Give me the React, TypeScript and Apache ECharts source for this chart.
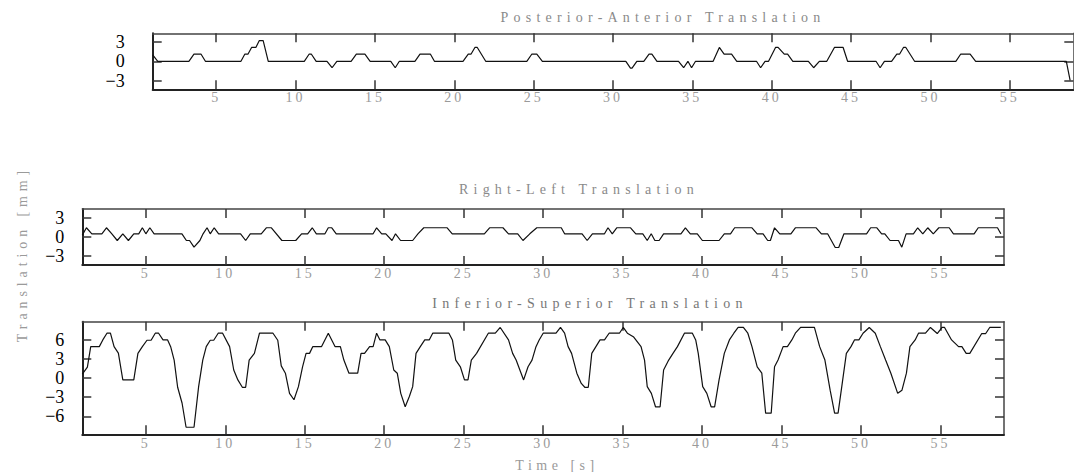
import React, { useEffect, useRef } from "react";
import * as echarts from "echarts";

// ---------- data ----------
const T_MIN = 1;
const T_MAX = 59;
const xTicks = [5, 10, 15, 20, 25, 30, 35, 40, 45, 50, 55];
const paYTicks = [-3, 0, 3];
const rlYTicks = [-3, 0, 3];
const isYTicks = [-6, -3, 0, 3, 6];

const titlePA = "Posterior-Anterior Translation";
const titleRL = "Right-Left Translation";
const titleIS = "Inferior-Superior Translation";
const xName = "Time [s]";
const yName = "Translation [mm]";

// [time s, translation mm]
const paData: [number, number][] = [
  [1.0, 1.0], [1.32, 0], [3.28, 0], [3.6, 1.1], [4.05, 1.1], [4.32, 0], [6.56, 0], [6.8, 1.1], [7.0, 1.1],
  [7.23, 2.15], [7.5, 2.15], [7.71, 3.2], [7.96, 3.2], [8.28, 0], [10.55, 0], [10.85, 1.1], [11.0, 1.1],
  [11.3, 0], [11.98, 0], [12.3, -1.0], [12.6, 0], [13.5, 0], [13.83, 1.1], [14.37, 1.1], [14.7, 0],
  [16.0, 0], [16.28, -1.0], [16.54, 0], [17.52, 0], [17.84, 1.1], [18.5, 1.1], [18.75, 0], [20.55, 0],
  [20.88, 1.1], [21.05, 1.1], [21.3, 2.15], [21.45, 2.15], [21.98, 0], [24.57, 0], [24.88, 1.1],
  [25.2, 1.1], [25.55, 0], [30.81, 0], [31.1, -1.05], [31.2, -1.05], [31.5, 0], [31.94, 0], [32.27, 1.1],
  [32.45, 1.1], [32.77, 0], [34.13, 0], [34.45, -1.0], [34.72, 0], [34.95, -1.0], [35.2, 0], [36.31, 0],
  [36.7, 2.15], [37.0, 1.1], [37.47, 1.1], [37.8, 0], [39.04, 0], [39.3, -1.0], [39.58, 0], [39.8, 0],
  [40.24, 2.15], [40.4, 2.15], [40.79, 1.1], [41.0, 1.1], [41.33, 0], [42.31, 0], [42.64, -1.0], [43.0, 0],
  [43.47, 0], [43.95, 2.15], [44.5, 2.15], [44.78, 0], [46.57, 0], [46.83, -1.0], [47.1, 0], [47.55, 0],
  [47.88, 1.1], [48.05, 1.1], [48.3, 2.15], [48.45, 2.15], [49.0, 0], [51.6, 0], [51.9, 1.1], [52.5, 1.1],
  [52.85, 0], [58.56, 0], [58.8, -2.95],
];

const rlData: [number, number][] = [
  [1.0, 0.3], [1.26, 1.45], [1.6, 0.5], [2.23, 0.5], [2.52, 1.45], [2.86, 0.5], [3.2, -0.55], [3.55, 0.5],
  [3.9, -0.55], [4.24, 0.5], [4.55, 0.5], [4.78, 1.45], [5.0, 0.5], [5.25, 1.45], [5.52, 0.5], [7.27, 0.5],
  [7.55, -0.55], [7.75, -0.55], [8.03, -1.6], [8.4, -0.55], [8.6, 0.5], [8.85, 1.45], [9.05, 0.5],
  [9.3, 1.45], [9.58, 0.5], [10.96, 0.5], [11.28, -0.55], [11.57, 0.5], [12.26, 0.5], [12.58, 1.45],
  [12.9, 1.45], [13.56, -0.55], [14.43, -0.55], [14.8, 0.5], [15.18, 0.5], [15.47, 1.45], [15.73, 0.5],
  [16.27, 0.5], [16.48, 1.45], [16.7, 1.45], [16.98, 0.5], [19.3, 0.5], [19.52, 1.45], [19.84, 0.5],
  [20.1, 0.5], [20.49, -0.55], [20.71, 0.5], [21.03, -0.55], [21.79, -0.55], [22.12, 0.5], [22.49, 1.45],
  [23.96, 1.45], [24.28, 0.5], [26.3, 0.5], [26.63, 1.45], [27.47, 1.45], [27.82, 0.5], [28.4, 0.5],
  [28.73, -0.55], [29.16, 0.5], [29.6, 1.45], [31.14, 1.45], [31.35, 0.5], [32.45, 0.5], [32.77, -0.55],
  [33.1, 0.5], [33.86, 0.5], [34.08, 1.45], [34.35, 0.5], [34.63, 1.45], [35.5, 1.45], [35.83, 0.5],
  [36.27, 0.5], [36.55, -0.55], [36.8, 0.5], [37.03, -0.55], [37.3, -0.55], [37.58, 0.5], [38.67, 0.5],
  [38.95, 1.45], [39.26, 0.5], [39.7, 0.5], [40.02, -0.55], [41.07, -0.55], [41.4, 0.5], [41.79, 0.5],
  [42.05, 1.45], [43.14, 1.45], [43.47, 0.5], [43.84, 0.5], [44.13, -0.55], [44.3, -0.55], [44.56, 1.45],
  [44.89, 0.5], [45.59, 0.5], [45.87, 1.45], [47.18, 1.45], [47.51, 0.5], [47.9, 0.5], [48.38, -1.65],
  [48.6, -1.65], [48.93, 0.5], [50.35, 0.5], [50.61, 1.45], [51.0, 1.45], [51.3, 0.5], [51.5, 0.5],
  [51.83, -0.55], [52.36, -0.55], [52.57, -1.6], [52.84, 0.5], [53.3, 0.5], [53.57, 1.45], [53.89, 0.5],
  [54.2, 1.45], [54.55, 0.5], [54.9, 1.45], [55.55, 1.45], [55.82, 0.5], [57.12, 0.5], [57.38, 1.45],
  [58.59, 1.45], [58.8, 0.5],
];

const isData: [number, number][] = [
  [1.0, 0.6], [1.32, 1.7], [1.53, 4.9], [2.07, 4.9], [2.29, 5.95], [2.55, 7.0], [2.77, 7.0], [3.0, 4.9],
  [3.27, 3.9], [3.55, -0.3], [4.24, -0.3], [4.5, 3.85], [4.78, 4.9], [5.07, 5.9], [5.33, 5.9], [5.59, 7.0],
  [5.8, 7.0], [6.08, 5.95], [6.37, 5.95], [6.56, 4.9], [6.78, 2.8], [7.0, -1.45], [7.28, -3.95],
  [7.53, -7.7], [8.03, -7.7], [8.32, -1.35], [8.58, 2.8], [8.8, 4.9], [9.05, 5.9], [9.27, 5.9], [9.55, 7.0],
  [9.83, 7.0], [10.27, 4.9], [10.53, 1.25], [10.79, -0.3], [11.07, -1.45], [11.28, -1.45], [11.5, 2.8],
  [11.83, 3.85], [12.15, 7.0], [13.0, 7.0], [13.3, 5.9], [13.52, 1.9], [13.78, 0.75], [14.04, -2.4],
  [14.32, -3.4], [14.6, -1.35], [14.86, 1.75], [15.08, 3.85], [15.3, 3.85], [15.5, 4.9], [16.05, 4.9],
  [16.48, 7.0], [16.91, 4.9], [17.24, 4.9], [17.46, 2.8], [17.78, 0.75], [18.33, 0.75], [18.54, 3.85],
  [18.76, 3.85], [19.08, 4.9], [19.3, 4.9], [19.52, 7.0], [19.73, 5.95], [20.06, 5.95], [20.32, 4.9],
  [20.6, 1.25], [20.82, 0.75], [21.04, -2.4], [21.32, -4.5], [21.58, -2.9], [21.79, -1.35], [22.0, 3.85],
  [22.27, 4.9], [22.55, 5.95], [22.83, 5.95], [23.05, 7.0], [24.07, 7.0], [24.29, 5.95], [24.5, 2.8],
  [24.79, 1.75], [25.05, -0.3], [25.27, -0.3], [25.48, 2.8], [25.81, 3.85], [26.55, 7.0], [26.99, 7.0],
  [27.3, 7.9], [27.82, 5.95], [28.08, 3.85], [28.3, 2.8], [28.77, -0.3], [29.05, 1.75], [29.3, 2.8],
  [29.55, 4.9], [29.75, 5.95], [30.0, 7.0], [30.81, 7.0], [31.09, 7.9], [31.35, 7.0], [31.57, 4.9],
  [31.79, 3.85], [32.12, 0.75], [32.4, -0.85], [32.62, -1.45], [32.84, -1.45], [33.06, 3.85], [33.32, 4.9],
  [33.58, 5.95], [33.86, 5.95], [34.15, 7.0], [34.8, 7.0], [35.04, 7.9], [35.3, 7.0], [35.7, 6.4],
  [36.16, 4.9], [36.38, 2.8], [36.55, -1.35], [36.81, -2.4], [37.07, -4.5], [37.36, -4.5], [37.58, 1.25],
  [37.9, 2.8], [38.17, 3.85], [38.45, 4.9], [38.89, 7.0], [39.39, 7.0], [39.6, 5.95], [39.76, 3.85],
  [40.04, -1.35], [40.3, -2.4], [40.57, -4.5], [40.79, -4.5], [41.07, -0.3], [41.4, 3.85], [41.72, 5.95],
  [42.0, 7.0], [42.27, 7.9], [42.6, 7.9], [42.88, 7.0], [43.14, 4.9], [43.47, 1.75], [43.76, 0.75],
  [44.0, -5.5], [44.35, -5.5], [44.56, 1.75], [44.78, 2.8], [45.1, 4.9], [45.37, 4.9], [45.65, 5.95],
  [45.87, 7.0], [46.2, 7.9], [47.07, 7.9], [47.4, 4.9], [47.73, 2.8], [48.06, -1.9], [48.34, -5.5],
  [48.56, -5.5], [48.82, -0.85], [49.08, 3.85], [49.37, 4.9], [49.59, 5.95], [49.87, 5.95], [50.13, 7.0],
  [50.52, 7.9], [50.9, 7.0], [51.22, 4.9], [51.55, 2.8], [51.88, 0.75], [52.31, -2.4], [52.58, -1.9],
  [52.86, 0.75], [53.08, 4.9], [53.41, 5.95], [53.62, 7.0], [54.06, 7.0], [54.37, 7.9], [54.8, 6.95],
  [55.1, 7.9], [55.26, 7.9], [55.7, 5.95], [56.14, 4.9], [56.35, 4.9], [56.62, 3.85], [56.85, 3.85],
  [57.6, 6.95], [57.85, 6.95], [58.1, 7.9], [58.8, 7.9],
];

// ---------- styling ----------
const FONT = "Liberation Serif, DejaVu Serif, serif";

const fmtY = (v: number) => (v < 0 ? "\u2212" + Math.abs(v) : String(v));

function axesFor(
  g: number,
  yMin: number,
  yMax: number,
  yTicks: number[],
  yLabelMargin: number,
  xLabelMargin: number
) {
  const tickStyle = { color: "#333", width: 1.5 };
  const xBottom = {
    type: "value",
    gridIndex: g,
    min: T_MIN,
    max: T_MAX,
    position: "bottom",
    axisLine: { show: true, onZero: false, lineStyle: { color: "#222", width: 2 } },
    axisTick: { show: true, inside: true, length: 9, customValues: xTicks, lineStyle: tickStyle },
    axisLabel: {
      show: true,
      customValues: xTicks,
      margin: xLabelMargin,
      color: "#9a9a9a",
      fontSize: 14,
      fontFamily: FONT,
    },
    splitLine: { show: false },
  };
  const xTop = {
    type: "value",
    gridIndex: g,
    min: T_MIN,
    max: T_MAX,
    position: "top",
    axisLine: { show: true, onZero: false, lineStyle: { color: "#444", width: 1.5 } },
    axisTick: { show: true, inside: true, length: 9, customValues: xTicks, lineStyle: tickStyle },
    axisLabel: { show: false },
    splitLine: { show: false },
  };
  const yLeft = {
    type: "value",
    gridIndex: g,
    min: yMin,
    max: yMax,
    position: "left",
    axisLine: { show: true, onZero: false, lineStyle: { color: "#222", width: 2 } },
    axisTick: { show: true, inside: true, length: 9, customValues: yTicks, lineStyle: tickStyle },
    axisLabel: {
      show: true,
      customValues: yTicks,
      margin: yLabelMargin,
      color: "#000",
      fontSize: 18,
      fontFamily: FONT,
      formatter: fmtY,
    },
    splitLine: { show: false },
  };
  const yRight = {
    type: "value",
    gridIndex: g,
    min: yMin,
    max: yMax,
    position: "right",
    axisLine: { show: true, onZero: false, lineStyle: { color: "#444", width: 1.5 } },
    axisTick: { show: true, inside: true, length: 9, customValues: yTicks, lineStyle: tickStyle },
    axisLabel: { show: false },
    splitLine: { show: false },
  };
  return { x: [xBottom, xTop], y: [yLeft, yRight] };
}

const spacingMap: Record<string, string> = {
  [titlePA]: "5.2px",
  [titleRL]: "5.2px",
  [titleIS]: "5.3px",
  [xName]: "4.5px",
  [yName]: "4.9px",
};
xTicks.forEach((t) => (spacingMap[String(t)] = "3px"));

export default function App() {
  const ref = useRef<HTMLDivElement>(null);

  useEffect(() => {
    const el = ref.current;
    if (!el) return;
    const chart = echarts.init(el, undefined, { renderer: "svg" });

    const a0 = axesFor(0, -4.35, 4.35, paYTicks, 28, 1);
    const a1 = axesFor(1, -4.4, 4.4, rlYTicks, 18, 1);
    const a2 = axesFor(2, -8.8, 8.8, isYTicks, 18, 2);

    const lineSeries = (g: number, data: [number, number][], name: string) => ({
      type: "line",
      name,
      xAxisIndex: g * 2,
      yAxisIndex: g * 2,
      data,
      symbol: "none",
      showSymbol: false,
      lineStyle: { color: "#111", width: 1.2 },
      clip: true,
    });

    const titleText = (text: string, x: number, y: number, color: string) => ({
      type: "text",
      x,
      y,
      style: {
        text,
        fill: color,
        fontSize: 14,
        fontFamily: FONT,
        textAlign: "center",
        textVerticalAlign: "middle",
      },
    });

    chart.setOption({
      animation: false,
      backgroundColor: "#fff",
      grid: [
        { left: 152.7, top: 33.3, width: 920.6, height: 56, containLabel: false, outerBoundsMode: "none" },
        { left: 82.3, top: 209, width: 921.7, height: 56, containLabel: false, outerBoundsMode: "none" },
        { left: 82.3, top: 321.7, width: 921.7, height: 112.6, containLabel: false, outerBoundsMode: "none" },
      ],
      xAxis: [...a0.x, ...a1.x, ...a2.x],
      yAxis: [...a0.y, ...a1.y, ...a2.y],
      series: [
        lineSeries(0, paData, titlePA),
        lineSeries(1, rlData, titleRL),
        lineSeries(2, isData, titleIS),
      ],
      graphic: [
        titleText(titlePA, 663, 17, "#8a8a8a"),
        titleText(titleRL, 579, 189.5, "#8a8a8a"),
        titleText(titleIS, 590, 303, "#777"),
        titleText(xName, 557, 465, "#9a9a9a"),
        {
          type: "text",
          x: 22,
          y: 254,
          rotation: Math.PI / 2,
          style: {
            text: yName,
            fill: "#9a9a9a",
            fontSize: 14,
            fontFamily: FONT,
            textAlign: "center",
            textVerticalAlign: "middle",
          },
        },
      ],
    });

    const applySpacing = () => {
      el.querySelectorAll("text").forEach((t) => {
        const s = (t.textContent || "").trim();
        const sp = spacingMap[s];
        if (sp) (t as SVGTextElement).style.letterSpacing = sp;
      });
    };
    applySpacing();
    chart.on("finished", applySpacing);
    chart.on("rendered", applySpacing);

    return () => {
      chart.dispose();
    };
  }, []);

  return (
    <div
      ref={ref}
      style={{ position: "absolute", left: 0, top: 0, width: 1074, height: 472, background: "#fff" }}
    />
  );
}
